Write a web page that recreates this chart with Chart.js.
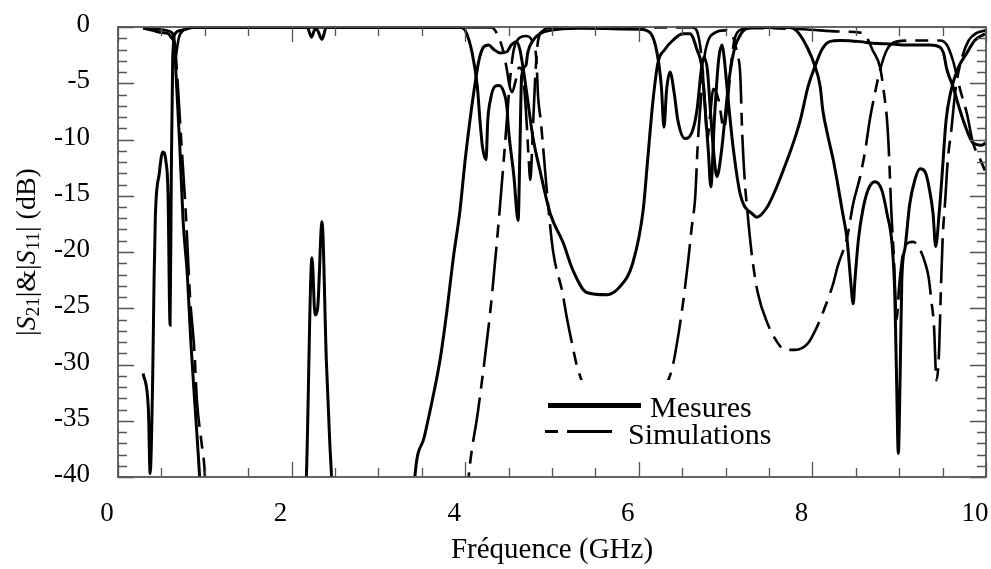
<!DOCTYPE html>
<html>
<head>
<meta charset="utf-8">
<script src="https://cdn.jsdelivr.net/npm/chart.js@4.4.1/dist/chart.umd.min.js"></script>
<style>
  html, body { margin: 0; padding: 0; background: #fff; }
  canvas { display: block; }
</style>
</head>
<body>
<canvas id="grafico" width="991" height="569"></canvas>
<script>
// axes
const freqMin = 0, freqMax = 10, freqStep = 2, freqMinorStep = 0.5;
const dbMin = -40, dbMax = 0, dbStep = 5, dbMinorStep = 1;
const titreX = 'Fréquence (GHz)';
const legendLabels = ['Mesures', 'Simulations'];

// [GHz, dB]; -50 = off the bottom of the plot
const mesuresS21 = [
  [0.29,-0.1],[0.40,-0.3],[0.51,-0.5],[0.58,-0.6],[0.62,-1.0],[0.645,-1.4],[0.68,-5.9],[0.71,-10.3],
  [0.75,-17.2],[0.80,-22.2],[0.84,-28.1],[0.89,-34],[0.94,-40],[0.97,-45],[1.0,-50],[2.1,-50],
  [2.17,-40],[2.235,-20.5],[2.27,-25.6],[2.30,-25],[2.35,-17.3],[2.40,-29.6],[2.44,-37],[2.46,-40],
  [2.5,-50],[3.35,-50],[3.42,-40],[3.53,-36.4],[3.62,-33.2],[3.71,-29.6],[3.79,-25.2],[3.86,-20.7],
  [3.94,-16.3],[4.00,-11.8],[4.07,-7.4],[4.12,-4.7],[4.16,-2.9],[4.21,-1.8],[4.27,-1.6],[4.33,-2.0],
  [4.40,-2.3],[4.48,-2.2],[4.53,-1.6],[4.59,-1.3],[4.63,-2.0],[4.67,-3.8],[4.72,-6.5],[4.78,-9.8],
  [4.86,-12.7],[4.98,-16.6],[5.13,-19.2],[5.24,-21.6],[5.40,-23.6],[5.63,-23.8],[5.78,-23.1],
  [5.93,-21],[6.05,-16.3],[6.10,-12],[6.16,-6.8],[6.22,-3.2],[6.30,-2.0],[6.39,-1.2],[6.51,-0.6],
  [6.59,-0.6],[6.67,-2.0],[6.73,-3.8],[6.76,-6.8],[6.80,-10.9],[6.83,-14.2],[6.87,-8.3],[6.92,-2.9],
  [6.96,-1.6],[6.98,-2.5],[7.03,-6.5],[7.09,-10.9],[7.17,-14.9],[7.32,-16.7],[7.36,-16.9],[7.48,-16],
  [7.59,-14.2],[7.71,-11.8],[7.78,-10.3],[7.86,-8.3],[7.95,-5.3],[8.03,-3.5],[8.11,-2.0],[8.20,-1.3],
  [8.32,-1.2],[8.55,-1.3],[8.70,-1.45],[8.89,-1.5],[9.09,-1.6],[9.35,-1.6],[9.47,-1.8],[9.51,-2.3],
  [9.55,-3.8],[9.62,-5.3],[9.70,-7.4],[9.78,-9.2],[9.85,-10.3],[9.95,-10.5],[10.0,-10.3]
];
const mesuresS11 = [
  [0.29,-30.8],[0.35,-34],[0.37,-39.7],[0.40,-31],[0.415,-22.7],[0.43,-16.9],[0.476,-13],[0.515,-11.1],
  [0.553,-12],[0.576,-14.7],[0.60,-26.5],[0.614,-13.3],[0.63,-2.9],[0.657,-0.6],[0.73,-0.3],[0.87,-0.05],
  [2.18,-0.05],[2.23,-0.9],[2.27,-0.2],[2.30,-0.3],[2.35,-1.1],[2.40,-0.05],[3.95,-0.05],[4.00,-0.3],
  [4.08,-2.3],[4.14,-5.3],[4.17,-8.3],[4.20,-10.7],[4.24,-11.8],[4.26,-8.3],[4.29,-6.5],[4.34,-5.3],
  [4.39,-5.2],[4.44,-5.7],[4.48,-7.1],[4.50,-9.2],[4.56,-13.2],[4.61,-17.2],[4.63,-11],[4.65,-4.4],
  [4.70,-3.4],[4.72,-2.3],[4.78,-1.2],[4.86,-0.6],[4.98,-0.3],[5.3,-0.1],[6.0,-0.2],[6.13,-0.5],
  [6.21,-2.3],[6.26,-5.3],[6.29,-8.9],[6.32,-5.6],[6.36,-4.0],[6.41,-6.0],[6.45,-8.3],[6.53,-9.9],
  [6.61,-9.4],[6.67,-7.4],[6.72,-3.8],[6.75,-2.7],[6.79,-3.8],[6.82,-6.9],[6.86,-10.9],[6.90,-13.3],
  [6.95,-11.2],[6.99,-8.3],[7.04,-4.7],[7.10,-2.0],[7.17,-0.7],[7.28,-0.05],[7.74,-0.05],[7.82,-0.35],
  [7.94,-1.8],[8.03,-3.5],[8.09,-5.3],[8.12,-7.4],[8.18,-9.75],[8.24,-11.8],[8.29,-13.9],[8.35,-16.6],
  [8.40,-18.9],[8.44,-22.5],[8.47,-24.6],[8.49,-22.5],[8.53,-18.9],[8.58,-16.3],[8.64,-14.5],
  [8.72,-13.75],[8.80,-14.5],[8.86,-16.6],[8.92,-19.5],[8.95,-24],[8.97,-31.4],[8.99,-37.9],
  [9.01,-31.4],[9.03,-22.5],[9.07,-19.5],[9.12,-15.8],[9.18,-13.6],[9.24,-12.6],[9.30,-12.9],
  [9.35,-14.5],[9.39,-16.6],[9.42,-19.5],[9.46,-16.6],[9.49,-13.6],[9.54,-8.3],[9.59,-5.9],
  [9.67,-3.8],[9.78,-2.3],[9.87,-1.2],[9.99,-0.6]
];
const simulationsS21 = [
  [0.29,-0.1],[0.45,-0.2],[0.60,-0.4],[0.65,-1.2],[0.695,-5.9],[0.73,-10.3],[0.78,-16.4],[0.83,-24],
  [0.88,-28.8],[0.91,-33.3],[0.96,-36.8],[1.0,-39.7],[1.05,-50],[3.95,-50],[4.04,-40],[4.15,-34],
  [4.29,-25.2],[4.38,-17.8],[4.46,-10.3],[4.52,-4.4],[4.56,-2],[4.62,-1.0],[4.70,-0.8],[4.77,-1.2],
  [4.82,-2.9],[4.84,-6.2],[4.87,-8.3],[4.91,-11.8],[4.94,-14.5],[5.01,-19.8],[5.12,-23.6],[5.17,-25.8],
  [5.23,-28.1],[5.29,-30.2],[5.5,-34],[5.8,-35],[6.1,-34],[6.3,-32],[6.38,-30.5],[6.44,-28.1],
  [6.51,-24.5],[6.57,-20.7],[6.61,-17.8],[6.65,-15.1],[6.68,-10.3],[6.72,-6],[6.75,-3],[6.80,-1.2],
  [6.88,-0.5],[6.99,-0.3],[7.07,-0.7],[7.11,-1.5],[7.13,-2.3],[7.17,-4.4],[7.19,-9.2],[7.22,-13.6],
  [7.25,-16.3],[7.30,-20.1],[7.37,-23.6],[7.48,-26.3],[7.63,-28.4],[7.68,-28.7],[7.80,-28.7],
  [7.95,-28.1],[8.05,-26.7],[8.12,-25.4],[8.24,-22.8],[8.29,-21.3],[8.40,-18.7],[8.47,-15.7],
  [8.55,-13.3],[8.61,-10.9],[8.66,-8.3],[8.72,-5.9],[8.78,-3.8],[8.86,-2.0],[8.97,-1.3],[9.16,-1.2],
  [9.47,-1.2],[9.55,-1.6],[9.62,-3],[9.70,-5.5],[9.78,-7.7],[9.85,-10.3],[9.93,-11.7],[10.0,-13]
];
const simulationsS11 = [
  [0.66,-3],[0.70,-1],[0.75,-0.3],[0.85,-0.05],[4.30,-0.05],[4.38,-0.8],[4.44,-2.2],[4.48,-3.8],
  [4.51,-5.2],[4.54,-5.8],[4.58,-4.8],[4.62,-3.6],[4.66,-4.0],[4.70,-7.5],[4.73,-11.5],[4.75,-13.6],
  [4.78,-9],[4.81,-4],[4.84,-1.2],[4.90,-0.3],[5.0,-0.05],[6.62,-0.05],[6.68,-0.6],[6.72,-2.5],
  [6.76,-6.5],[6.79,-10],[6.82,-8],[6.86,-5.5],[6.92,-6.5],[6.98,-9],[7.02,-7],[7.06,-3.5],
  [7.10,-1.2],[7.16,-0.3],[7.3,-0.1],[7.9,-0.2],[8.3,-0.4],[8.55,-0.5],[8.61,-0.7],[8.69,-2.0],
  [8.78,-3.6],[8.82,-5.6],[8.86,-8.3],[8.88,-10.9],[8.91,-16.5],[8.94,-20.7],[8.97,-26],[9.0,-23],
  [9.04,-20.3],[9.10,-19.2],[9.16,-19.1],[9.22,-19.5],[9.30,-21],[9.34,-22.3],[9.37,-24.3],
  [9.40,-26.5],[9.43,-31.4],[9.46,-28.7],[9.48,-23.4],[9.50,-18.9],[9.53,-15.4],[9.56,-11.8],
  [9.60,-9.2],[9.65,-5.5],[9.72,-2.8],[9.80,-1.2],[9.90,-0.5],[10.0,-0.3]
];

const serif = "'Liberation Serif', 'Times New Roman', serif";
const simDash = [45, 9, 13, 9];
const clipZone = { left: 0, top: 4, right: 2, bottom: 0 };

function mesure(label, data) {
  return { label, data, borderColor: '#000', borderWidth: 3, pointRadius: 0,
           cubicInterpolationMode: 'monotone', clip: clipZone };
}
function simulation(label, data) {
  return { label, data, borderColor: '#000', borderWidth: 2.6, borderDash: simDash, pointRadius: 0,
           cubicInterpolationMode: 'monotone', clip: clipZone };
}

// cadre + graduations vers l'intérieur
const cadre = {
  id: 'cadre',
  afterDatasetsDraw(chart) {
    const { ctx, chartArea: a, scales: { x, y } } = chart;
    ctx.save();
    ctx.strokeStyle = '#555';
    ctx.lineWidth = 1.8;
    ctx.strokeRect(a.left, a.top, a.right - a.left, a.bottom - a.top);
    ctx.lineWidth = 1.3;
    ctx.beginPath();
    for (let f = freqMin; f <= freqMax + 1e-9; f += freqMinorStep) {
      const px = Math.round(x.getPixelForValue(f)) + 0.5;
      const len = Math.abs(f % freqStep) < 1e-9 ? 15 : 9;
      ctx.moveTo(px, a.bottom); ctx.lineTo(px, a.bottom - len);
      ctx.moveTo(px, a.top); ctx.lineTo(px, a.top + len);
    }
    for (let d = dbMax; d >= dbMin; d -= dbMinorStep) {
      const py = Math.round(y.getPixelForValue(d)) + 0.5;
      const len = d % dbStep === 0 ? 16 : 9;
      ctx.moveTo(a.left, py); ctx.lineTo(a.left + len, py);
      ctx.moveTo(a.right, py); ctx.lineTo(a.right - len, py);
    }
    ctx.stroke();

    // légende dans le tracé
    ctx.fillStyle = '#fff';
    ctx.fillRect(538, 380, 252, 68);
    ctx.strokeStyle = '#000';
    ctx.lineWidth = 5;
    ctx.beginPath(); ctx.moveTo(548, 405.5); ctx.lineTo(641, 405.5); ctx.stroke();
    ctx.lineWidth = 3;
    ctx.setLineDash([13, 9, 45, 100]);
    ctx.beginPath(); ctx.moveTo(545, 431.5); ctx.lineTo(612, 431.5); ctx.stroke();
    ctx.setLineDash([]);
    ctx.fillStyle = '#000';
    ctx.font = '30px ' + serif;
    ctx.textBaseline = 'alphabetic';
    ctx.fillText(legendLabels[0], 650, 417);
    ctx.fillText(legendLabels[1], 628, 444);

    // titre de l'axe Y : |S21|&|S11| (dB)
    const parts = [
      ['|', 'normal', 0], ['S', 'italic', 0], ['21', 'small', 6], ['|', 'normal', 0], ['&', 'normal', 0],
      ['|', 'normal', 0], ['S', 'italic', 0], ['11', 'small', 6], ['|', 'normal', 0], [' (dB)', 'normal', 0]
    ];
    const fontOf = s => s === 'italic' ? 'italic 28px ' + serif : s === 'small' ? '19px ' + serif : '28px ' + serif;
    let total = 0;
    parts.forEach(p => { ctx.font = fontOf(p[1]); total += ctx.measureText(p[0]).width; });
    ctx.translate(28, (a.top + a.bottom) / 2);
    ctx.rotate(-Math.PI / 2);
    ctx.textBaseline = 'middle';
    let cx = -total / 2;
    parts.forEach(p => {
      ctx.font = fontOf(p[1]);
      ctx.fillText(p[0], cx, p[2]);
      cx += ctx.measureText(p[0]).width;
    });
    ctx.restore();
  }
};

new Chart(document.getElementById('grafico'), {
  type: 'line',
  data: {
    datasets: [
      simulation('S21 simulé', simulationsS21),
      simulation('S11 simulé', simulationsS11),
      mesure('S21 mesuré', mesuresS21),
      mesure('S11 mesuré', mesuresS11)
    ]
  },
  options: {
    responsive: false,
    animation: false,
    layout: { padding: { top: 27, right: 5, left: 0, bottom: 0 } },
    plugins: { legend: { display: false }, tooltip: { enabled: false } },
    scales: {
      x: {
        type: 'linear', min: freqMin, max: freqMax,
        grid: { display: false, drawTicks: false },
        border: { display: false },
        ticks: { stepSize: freqStep, color: '#000', font: { family: serif, size: 27 }, padding: 21,
                 labelOffset: -11, maxRotation: 0, callback: v => String(v) },
        title: { display: true, text: titreX, color: '#000', font: { family: serif, size: 29 },
                 padding: { top: 0, bottom: 1 } },
        afterFit(s) { s.height = 92; s.paddingLeft = 0; s.paddingRight = 0; }
      },
      y: {
        min: dbMin, max: dbMax,
        grid: { display: false, drawTicks: false },
        border: { display: false },
        ticks: { stepSize: dbStep, color: '#000', font: { family: serif, size: 27 }, padding: 28,
                 labelOffset: -2, callback: v => String(v) },
        afterFit(s) { s.width = 118; s.paddingTop = 0; s.paddingBottom = 0; }
      }
    }
  },
  plugins: [cadre]
});
</script>
</body>
</html>
